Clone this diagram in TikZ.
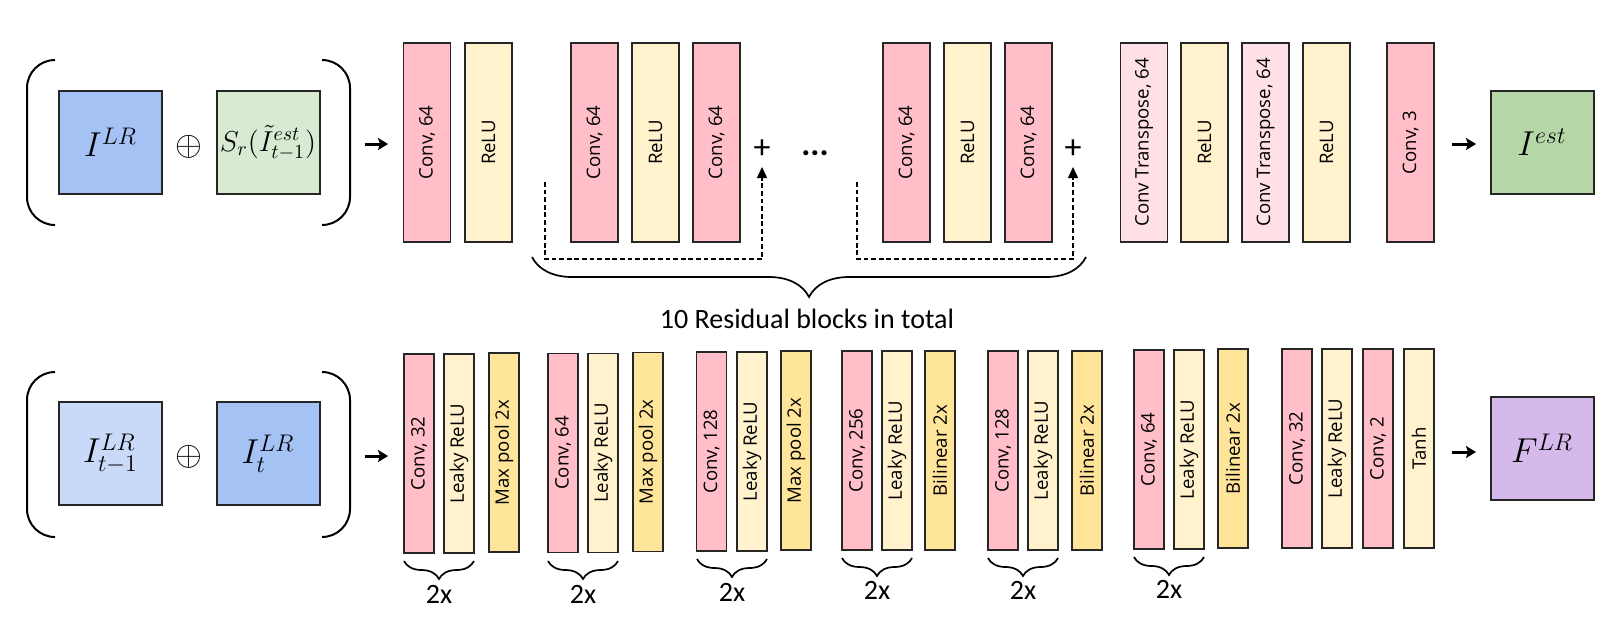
\documentclass[tikz,border=0pt]{standalone}
\usepackage{fontspec}
\setmainfont{Carlito}
\newfontfamily\blkfont{Open Sans}
\usetikzlibrary{arrows.meta,decorations.pathreplacing,calc}
\definecolor{convc}{RGB}{255,190,200}
\definecolor{reluc}{RGB}{255,242,204}
\definecolor{ctc}{RGB}{255,224,230}
\definecolor{poolc}{RGB}{255,229,153}
\definecolor{bluec}{RGB}{164,194,244}
\definecolor{lblue}{RGB}{201,218,248}
\definecolor{lgreen}{RGB}{217,234,211}
\definecolor{greenc}{RGB}{182,215,168}
\definecolor{purpc}{RGB}{213,185,234}
\definecolor{edgec}{RGB}{38,38,38}
\tikzset{
  blk/.style={draw=edgec, line width=0.9pt, rotate=90, minimum width=99.5pt, inner sep=0pt,
    font=\blkfont\fontsize{9.3}{10}\selectfont},
  blkT/.style={blk, minimum height=23.5pt},
  blkB/.style={blk, minimum height=15pt},
  img/.style={draw=edgec, line width=1pt, minimum width=51.5pt, minimum height=51.5pt, inner sep=0pt,
    font=\fontsize{17}{18}\selectfont},
  paren/.style={line width=1pt, rounded corners=14pt},
  arr/.style={line width=1.5pt, -{Stealth[length=5pt,width=6pt,inset=1pt]}},
  skipline/.style={dash pattern=on 2.4pt off 1.4pt, line width=0.7pt, -{Triangle[length=5.5pt,width=5pt]}},
  brc/.style={line width=0.85pt, decorate},
  note/.style={font=\fontsize{14}{16}\selectfont, inner sep=0pt},
  plusn/.style={font=\fontsize{17}{18}\selectfont, inner sep=0pt},
  opl/.style={font=\fontsize{16.5}{18}\selectfont, inner sep=0pt}
}
\begin{document}
\begin{tikzpicture}[x=0.5pt,y=-0.5pt]
\useasboundingbox (0,0) rectangle (1616,618);

% ---------- top row ----------
\draw[paren] (55,60) -- (27,60) -- (27,225) -- (55,225);
\draw[paren] (322,60) -- (350,60) -- (350,225) -- (322,225);
\node[img, fill=bluec] (ilr) at (110.5,142.5) {$I^{LR}$};
\node[opl] (op1) at (189,147) {$\oplus$};
\node[img, fill=lgreen, font=\fontsize{14.5}{16}\selectfont] (sr) at (268,142.5) {$S_r(\tilde{I}^{est}_{t-1})$};
\coordinate (a1s) at (365,144); \coordinate (a1e) at (388,144);
\draw[arr] (a1s) -- (a1e);

\node[blkT, fill=convc] (t1) at (427,142.5) {Conv, 64};
\node[blkT, fill=reluc] (t2) at (488.5,142.5) {ReLU};
\node[blkT, fill=convc] (r1a) at (594.5,142.5) {Conv, 64};
\node[blkT, fill=reluc] (r1b) at (655.5,142.5) {ReLU};
\node[blkT, fill=convc] (r1c) at (716.5,142.5) {Conv, 64};
\node[plusn] (plus1) at (762,149) {+};
\node[font=\bfseries\fontsize{17}{18}\selectfont, anchor=base, inner sep=0pt] (dots) at (815,155) {...};
\node[blkT, fill=convc] (r2a) at (906.5,142.5) {Conv, 64};
\node[blkT, fill=reluc] (r2b) at (967.5,142.5) {ReLU};
\node[blkT, fill=convc] (r2c) at (1028.5,142.5) {Conv, 64};
\node[plusn] (plus2) at (1073,149) {+};
\node[blkT, fill=ctc] (ct1) at (1144,142.5) {Conv Transpose, 64};
\node[blkT, fill=reluc] (t3) at (1204.5,142.5) {ReLU};
\node[blkT, fill=ctc] (ct2) at (1265.5,142.5) {Conv Transpose, 64};
\node[blkT, fill=reluc] (t4) at (1326.5,142.5) {ReLU};
\node[blkT, fill=convc] (t5) at (1410.5,142.5) {Conv, 3};
\coordinate (a2s) at (1452,144); \coordinate (a2e) at (1476,144);
\draw[arr] (a2s) -- (a2e);
\node[img, fill=greenc] (iest) at (1542,142) {$I^{est}$};

% skip connections
\coordinate (d1s) at (545,182); \coordinate (d1c) at (762,259); \coordinate (d1e) at (762,167);
\draw[skipline] (d1s) |- (d1c) -- (d1e);
\coordinate (d2s) at (857,182); \coordinate (d2c) at (1073,259); \coordinate (d2e) at (1073,167);
\draw[skipline] (d2s) |- (d2c) -- (d2e);

% big brace
\coordinate (bb1) at (532,257); \coordinate (bb2) at (1086,257);
\draw[brc, decoration={brace,mirror,amplitude=20pt}] (bb1) -- (bb2);
\node[note, anchor=base] (restext) at (807,328) {10 Residual blocks in total};

% ---------- bottom row ----------
\draw[paren] (55,372) -- (27,372) -- (27,537) -- (55,537);
\draw[paren] (322,372) -- (350,372) -- (350,537) -- (322,537);
\node[img, fill=lblue] (itm) at (110.5,453.5) {$I^{LR}_{t-1}$};
\node[opl] (op2) at (189,457) {$\oplus$};
\node[img, fill=bluec] (it) at (268,453.5) {$I^{LR}_{t}$};
\coordinate (a3s) at (365,456); \coordinate (a3e) at (388,456);
\draw[arr] (a3s) -- (a3e);

\node[blkB, fill=convc] (b1a) at (419,453.5) {Conv, 32};
\node[blkB, fill=reluc] (b1b) at (459,453.5) {Leaky ReLU};
\node[blkB, fill=poolc] (b1c) at (504,452.5) {Max pool 2x};

\node[blkB, fill=convc] (b2a) at (563,453) {Conv, 64};
\node[blkB, fill=reluc] (b2b) at (603,453) {Leaky ReLU};
\node[blkB, fill=poolc] (b2c) at (648,452) {Max pool 2x};

\node[blkB, fill=convc] (b3a) at (711.5,451.5) {Conv, 128};
\node[blkB, fill=reluc] (b3b) at (752,451.5) {Leaky ReLU};
\node[blkB, fill=poolc] (b3c) at (796,450.5) {Max pool 2x};

\node[blkB, fill=convc] (b4a) at (857,450.5) {Conv, 256};
\node[blkB, fill=reluc] (b4b) at (897,450.5) {Leaky ReLU};
\node[blkB, fill=poolc] (b4c) at (940,450.5) {Bilinear 2x};

\node[blkB, fill=convc] (b5a) at (1003,450.5) {Conv, 128};
\node[blkB, fill=reluc] (b5b) at (1043,450.5) {Leaky ReLU};
\node[blkB, fill=poolc] (b5c) at (1087,450.5) {Bilinear 2x};

\node[blkB, fill=convc] (b6a) at (1149,449.5) {Conv, 64};
\node[blkB, fill=reluc] (b6b) at (1189,449.5) {Leaky ReLU};
\node[blkB, fill=poolc] (b6c) at (1233,448.5) {Bilinear 2x};

\node[blkB, fill=convc] (b7a) at (1297,448.5) {Conv, 32};
\node[blkB, fill=reluc] (b7b) at (1337,448.5) {Leaky ReLU};
\node[blkB, fill=convc] (b7c) at (1378,448.5) {Conv, 2};
\node[blkB, fill=reluc] (b7d) at (1419,448.5) {Tanh};

\coordinate (a4s) at (1452,452); \coordinate (a4e) at (1476,452);
\draw[arr] (a4s) -- (a4e);
\node[img, fill=purpc] (flr) at (1542,448.5) {$F^{LR}$};

% small braces
\foreach \xa/\xb/\yy/\yt [count=\i] in {404/474/561/603, 548/618/561/603, 697/767/559/601, 842/912/558/599, 988/1058/558/599, 1134/1204/557/598}{
  \coordinate (s\i a) at (\xa,\yy); \coordinate (s\i b) at (\xb,\yy);
  \draw[brc, decoration={brace,mirror,amplitude=9pt}] (s\i a) -- (s\i b);
  \node[note, anchor=base] (tx\i) at ({(\xa+\xb)/2},\yt) {2x};
}
\end{tikzpicture}
\end{document}
